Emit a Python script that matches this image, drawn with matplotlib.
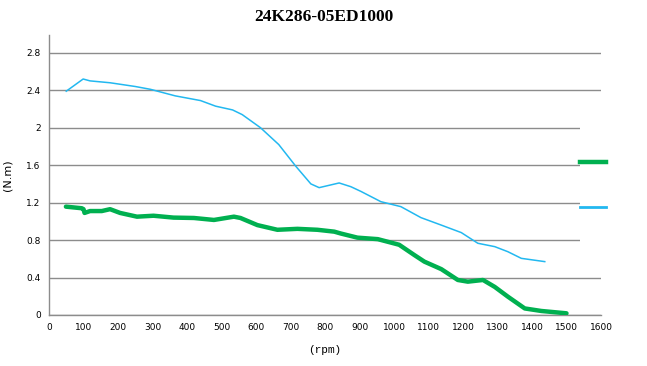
import matplotlib
matplotlib.use("Agg")
import matplotlib.pyplot as plt
from matplotlib.lines import Line2D
from matplotlib.patches import Rectangle

title = "24K286-05ED1000"

# Blue (upper) curve: speed (rpm) vs torque (N.m)
blue_rpm = [50, 99, 119, 177, 250, 294, 366, 439, 483, 532, 560, 613, 666, 715, 759, 783,
            841, 875, 904, 962, 1020, 1078, 1137, 1195, 1243, 1292, 1330, 1369, 1437]
blue_t = [2.39, 2.52, 2.50, 2.48, 2.44, 2.41, 2.34, 2.29, 2.23, 2.19, 2.14, 2.00, 1.82, 1.59,
          1.40, 1.36, 1.41, 1.37, 1.32, 1.21, 1.157, 1.04, 0.96, 0.88, 0.766, 0.73, 0.676, 0.605, 0.57]

# Green (lower) curve
green_rpm = [49, 95, 100, 103, 119, 153, 177, 206, 255, 303, 361, 420, 478, 536, 555, 604,
             662, 720, 778, 827, 846, 894, 953, 1015, 1059, 1088, 1137, 1185, 1214, 1258,
             1292, 1330, 1379, 1427, 1500]
green_t = [1.157, 1.14, 1.13, 1.09, 1.11, 1.11, 1.13, 1.09, 1.05, 1.06, 1.04, 1.036, 1.015,
           1.05, 1.036, 0.96, 0.91, 0.92, 0.91, 0.89, 0.87, 0.826, 0.81, 0.75, 0.64, 0.57,
           0.49, 0.374, 0.356, 0.374, 0.30, 0.196, 0.07, 0.043, 0.018]

x_ticks = list(range(0, 1601, 100))
y_ticks = [0, 0.4, 0.8, 1.2, 1.6, 2.0, 2.4, 2.8]
y_tick_labels = ["0", "0.4", "0.8", "1.2", "1.6", "2", "2.4", "2.8"]

green_c = "#00b050"
blue_c = "#22b8f0"
grid_c = "#8c8c8c"

W, H = 647, 366
fig = plt.figure(figsize=(W/100, H/100), dpi=100)
ax = fig.add_axes([49/W, 1-315/H, (601-49)/W, (315-35)/H])

ax.plot(blue_rpm, blue_t, color=blue_c, lw=1.1, solid_joinstyle="round", zorder=3)
ax.plot(green_rpm, green_t, color=green_c, lw=3.2, solid_capstyle="round",
        solid_joinstyle="round", zorder=3)

ax.set_xlim(0, 1600)
ax.set_ylim(0, 2.99)
ax.set_xticks(x_ticks)
ax.set_xticklabels([str(v) for v in x_ticks], fontsize=6.5, family="DejaVu Sans")
ax.set_yticks(y_ticks)
ax.set_yticklabels(y_tick_labels, fontsize=6.5, family="DejaVu Sans")
ax.tick_params(length=0, pad=6)
ax.yaxis.grid(True, color=grid_c, lw=1.0)
ax.set_axisbelow(True)
for s in ["top", "right"]:
    ax.spines[s].set_visible(False)
for s in ["left", "bottom"]:
    ax.spines[s].set_color(grid_c)
    ax.spines[s].set_linewidth(1.0)

ax.set_xlabel("(rpm)", fontsize=8, family="Liberation Mono", labelpad=9)
ax.set_ylabel("(N.m)", fontsize=8, family="DejaVu Sans", labelpad=10)

fig.text(0.5, 1-17/H, title, ha="center", va="center", fontsize=12.5,
         fontweight="bold", family="Liberation Serif")

# white legend area covering the gridlines
fig.patches.append(Rectangle((580/W, 1-248/H), (W-580)/W, 128/H, transform=fig.transFigure,
                             facecolor="white", edgecolor="none", zorder=1))

handles = [Line2D([], [], color=green_c, lw=3.2), Line2D([], [], color=blue_c, lw=2.0)]
leg = fig.legend(handles, ["", ""], loc="center left",
                 bbox_to_anchor=(580/W, 1-185/H), frameon=False,
                 handlelength=2.35, handletextpad=0.0, labelspacing=3.15,
                 borderpad=0.0, borderaxespad=0.0, fontsize=8)
leg.set_zorder(2)

fig.savefig("out.png", dpi=100, facecolor="white")
